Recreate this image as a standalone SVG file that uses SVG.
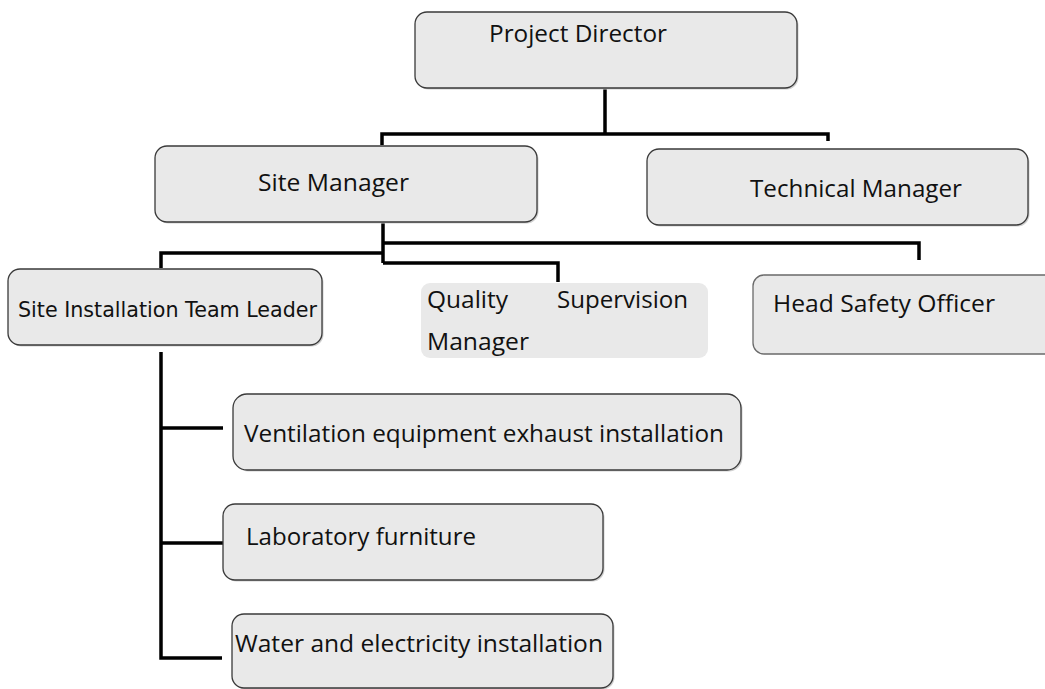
<svg xmlns="http://www.w3.org/2000/svg" width="1045" height="689" viewBox="0 0 1045 689">
<style>
  .box { fill: #e9e9e9; stroke: #3a3a3a; stroke-width: 1.3; }
  .shadow { fill: #cfcfcf; }
  .t { font-family: "Open Sans", "Noto Sans", "Liberation Sans", sans-serif; font-size: 24px; fill: #111; }
  .t2 { font-family: "DejaVu Sans", "Verdana", sans-serif; font-size: 21px; fill: #111; }
  .c { fill: none; stroke: #000; stroke-width: 3.5; stroke-linejoin: miter; stroke-linecap: butt; }
</style>
<rect width="1045" height="689" fill="#ffffff"/>
<g id="connectors">
  <path class="c" d="M605,88 V134 M382,145 V134 H828 V141"/>
  <path class="c" d="M383,222 V263 M383,243 H919 V260 M161,268 V253 H383 M383,263 H558 V282"/>
  <path class="c" d="M161,352 V658 H222 M161,428 H223 M161,543 H223"/>
</g>
<g id="project-director">
  <rect class="shadow" x="416.5" y="13.5" width="382" height="76" rx="12"/>
  <rect class="box" x="415" y="12" width="382" height="76" rx="12"/>
  <text class="t" x="489" y="42" textLength="178" lengthAdjust="spacingAndGlyphs">Project Director</text>
</g>
<g id="site-manager">
  <rect class="shadow" x="156.5" y="147.5" width="382" height="76" rx="12"/>
  <rect class="box" x="155" y="146" width="382" height="76" rx="12"/>
  <text class="t" x="258" y="191" textLength="151" lengthAdjust="spacingAndGlyphs">Site Manager</text>
</g>
<g id="technical-manager">
  <rect class="shadow" x="648.5" y="150.5" width="381" height="76" rx="12"/>
  <rect class="box" x="647" y="149" width="381" height="76" rx="12"/>
  <text class="t" x="750" y="197" textLength="212" lengthAdjust="spacingAndGlyphs">Technical Manager</text>
</g>
<g id="site-installation-team-leader">
  <rect class="shadow" x="9.5" y="270.5" width="314" height="76" rx="12"/>
  <rect class="box" x="8" y="269" width="314" height="76" rx="12"/>
  <text class="t2" x="18" y="317" textLength="299" lengthAdjust="spacingAndGlyphs">Site Installation Team Leader</text>
</g>
<g id="quality-supervision-manager">
  <rect x="421" y="283" width="287" height="75" rx="9" fill="#e9e9e9"/>
  <text class="t" x="427" y="308" textLength="81" lengthAdjust="spacingAndGlyphs">Quality</text>
  <text class="t" x="557" y="308" textLength="131" lengthAdjust="spacingAndGlyphs">Supervision</text>
  <text class="t" x="427" y="350" textLength="102" lengthAdjust="spacingAndGlyphs">Manager</text>
</g>
<g id="head-safety-officer">
  <rect x="753" y="275" width="330" height="79" rx="11" fill="#e9e9e9" stroke="#6a6a6a" stroke-width="1.3"/>
  <text class="t" x="773" y="312" textLength="222" lengthAdjust="spacingAndGlyphs">Head Safety Officer</text>
</g>
<g id="ventilation">
  <rect class="shadow" x="234.5" y="395.5" width="508" height="76" rx="14"/>
  <rect class="box" x="233" y="394" width="508" height="76" rx="14"/>
  <text class="t" x="244" y="442" textLength="480" lengthAdjust="spacingAndGlyphs">Ventilation equipment exhaust installation</text>
</g>
<g id="laboratory-furniture">
  <rect class="shadow" x="224.5" y="505.5" width="380" height="76" rx="12"/>
  <rect class="box" x="223" y="504" width="380" height="76" rx="12"/>
  <text class="t" x="246" y="545" textLength="230" lengthAdjust="spacingAndGlyphs">Laboratory furniture</text>
</g>
<g id="water-electricity">
  <rect class="shadow" x="233.5" y="615.5" width="381" height="74" rx="12"/>
  <rect class="box" x="232" y="614" width="381" height="74" rx="12"/>
  <text class="t" x="235" y="652" textLength="368" lengthAdjust="spacingAndGlyphs">Water and electricity installation</text>
</g>
</svg>
